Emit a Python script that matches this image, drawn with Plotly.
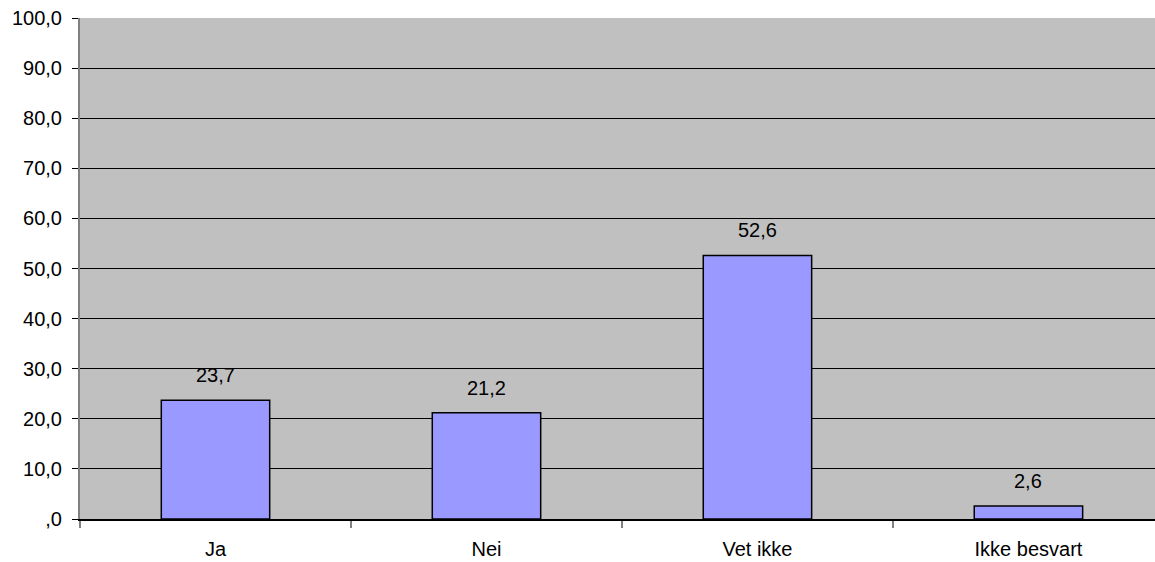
import plotly.graph_objects as go

categories = ["Ja", "Nei", "Vet ikke", "Ikke besvart"]
values = [23.7, 21.2, 52.6, 2.6]
y_ticks = [0, 10, 20, 30, 40, 50, 60, 70, 80, 90, 100]
y_tick_labels = [",0", "10,0", "20,0", "30,0", "40,0", "50,0", "60,0", "70,0", "80,0", "90,0", "100,0"]

font_family = "Liberation Sans, Arial, sans-serif"
font_size = 20

fig = go.Figure()
fig.add_trace(go.Bar(
    x=categories,
    y=values,
    width=0.4,
    marker=dict(color="#9999FF", line=dict(color="#000000", width=1.5)),
    hoverinfo="skip",
))

for cat, val in zip(categories, values):
    fig.add_annotation(
        x=cat, y=val, text=f"{val:.1f}".replace(".", ","),
        showarrow=False, yshift=25, yanchor="middle",
        font=dict(family=font_family, size=font_size, color="#000000"),
    )

fig.update_layout(
    width=1155, height=562,
    margin=dict(l=80, r=0, t=18, b=43),
    paper_bgcolor="#FFFFFF",
    plot_bgcolor="#C0C0C0",
    showlegend=False,
    font=dict(family=font_family, size=font_size, color="#000000"),
    xaxis=dict(
        type="category",
        range=[-0.5, 3.467],
        tickson="boundaries",
        ticks="outside", ticklen=7, tickwidth=2, tickcolor="#808080",
        showline=True, linecolor="#000000", linewidth=2,
        showgrid=False,
        automargin=False,
        ticklabelstandoff=11,
        tickfont=dict(size=font_size),
    ),
    yaxis=dict(
        range=[0, 100],
        tickvals=y_ticks, ticktext=y_tick_labels,
        ticks="outside", ticklen=6, tickwidth=1, tickcolor="#000000",
        showline=True, linecolor="#808080", linewidth=2,
        showgrid=True, gridcolor="#000000", gridwidth=1,
        zeroline=False,
        automargin=False,
        ticklabelstandoff=6,
        tickfont=dict(size=font_size),
    ),
)

fig.write_html("out.html")
